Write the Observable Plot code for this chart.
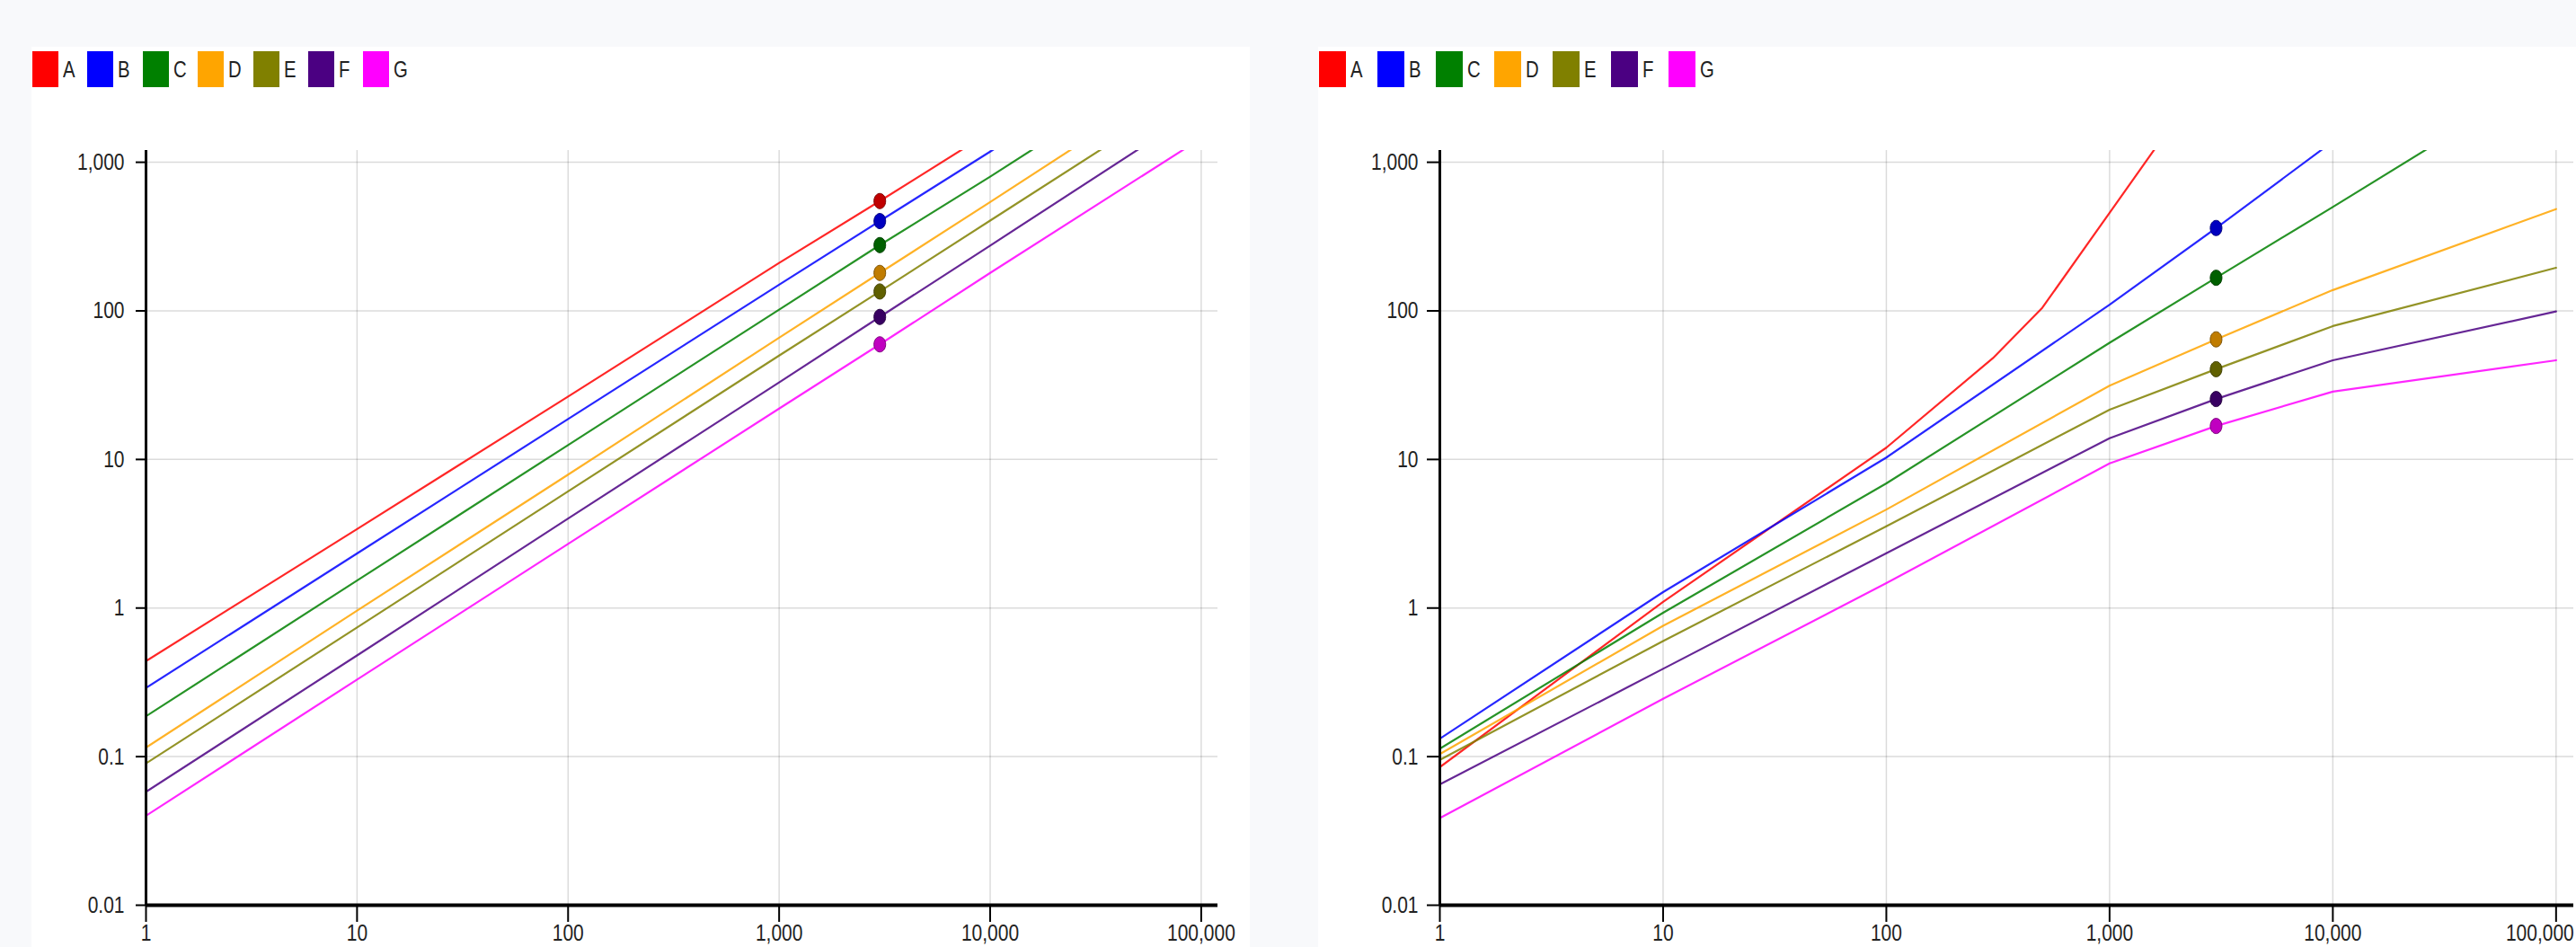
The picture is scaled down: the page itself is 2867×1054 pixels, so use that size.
<!DOCTYPE html>
<html><head><meta charset="utf-8">
<script src="https://cdn.jsdelivr.net/npm/d3@7"></script>
<script src="https://cdn.jsdelivr.net/npm/@observablehq/plot@0.6"></script>
<style>
html,body{margin:0;padding:0;width:2867px;height:1054px;overflow:hidden;background:#f8f9fb;}
.panel{position:absolute;background:#fff;}
.item{position:absolute;top:57px;height:40px;display:flex;align-items:center;}
.sw{height:40px;}
.lab{margin-left:5px;font-size:26px;font-family:"Liberation Sans",sans-serif;color:#222;display:inline-block;transform:scaleX(0.78);transform-origin:left center;}
.chart{position:absolute;top:120px;}
.chart svg{max-width:none !important;}
</style></head><body>
<div class="panel" style="left:35px;top:52px;width:1356px;height:1100px"></div>
<div class="panel" style="left:1467px;top:52px;width:1500px;height:1100px"></div>
<div id="legL"></div><div id="legR"></div>
<div id="left" class="chart" style="left:35px;width:1356px"></div>
<div id="right" class="chart" style="left:1467px;width:1420px"></div>
<script>
// ---- data ----
const series = ["A","B","C","D","E","F","G"];
const colors = ["#ff0000","#0000ff","#008000","#ffa500","#808000","#4b0082","#ff00ff"];
const xTicks = [1, 10, 100, 1000, 10000, 100000];
const yTicks = [0.01, 0.1, 1, 10, 100, 1000];
const dotX = 3000;

// left chart (all series share x)
const xLeft = [1, 10, 100, 1000, 3000, 10000, 100000];
const leftA = [0.44, 3.4, 26.5, 210, 548, 1600, 12400];
const leftB = [0.29, 2.33, 18.7, 150, 402, 1180, 9500];
const leftC = [0.187, 1.53, 12.5, 102, 277, 800, 6500];
const leftD = [0.115, 0.96, 7.9, 66, 180, 540, 4500];
const leftE = [0.09, 0.74, 6.1, 50, 135, 405, 3300];
const leftF = [0.058, 0.48, 4.0, 33, 91, 275, 2300];
const leftG = [0.04, 0.33, 2.7, 22, 59.5, 180, 1450];

// right chart
const xRightA = [1, 10, 100, 300, 500, 1000, 2000];
const xRight = [1, 10, 100, 1000, 3000, 10000, 100000];
const rightA = [0.085, 1.1, 12, 48, 105, 457, 1990];
const rightB = [0.132, 1.28, 10.3, 110, 361, 1380, 14000];
const rightC = [0.113, 0.93, 6.9, 61, 167, 500, 4200];
const rightD = [0.104, 0.76, 4.6, 31.4, 64.3, 138, 484];
const rightE = [0.095, 0.6, 3.55, 21.6, 40.5, 79, 195];
const rightF = [0.065, 0.39, 2.34, 13.9, 25.5, 46.5, 99];
const rightG = [0.0386, 0.245, 1.47, 9.4, 16.8, 28.6, 46.5];

const leftSeries = [[xLeft,leftA],[xLeft,leftB],[xLeft,leftC],[xLeft,leftD],[xLeft,leftE],[xLeft,leftF],[xLeft,leftG]];
const rightSeries = [[xRightA,rightA],[xRight,rightB],[xRight,rightC],[xRight,rightD],[xRight,rightE],[xRight,rightF],[xRight,rightG]];

const FONT = '"Liberation Sans",sans-serif';
const fmt = d3.format(",");

const ellipse = { draw(ctx) {
  const rx = 6.5, ry = 8.5, k = 0.5523;
  ctx.moveTo(rx, 0);
  ctx.bezierCurveTo(rx, ry*k, rx*k, ry, 0, ry);
  ctx.bezierCurveTo(-rx*k, ry, -rx, ry*k, -rx, 0);
  ctx.bezierCurveTo(-rx, -ry*k, -rx*k, -ry, 0, -ry);
  ctx.bezierCurveTo(rx*k, -ry, rx, -ry*k, rx, 0);
  ctx.closePath();
}};

function legend(id, left, step, sw) {
  const el = document.getElementById(id);
  series.forEach((s, i) => {
    const d = document.createElement("div");
    d.className = "item";
    d.style.left = (left + i * step) + "px";
    d.innerHTML = `<div class="sw" style="background:${colors[i]};width:${sw}px"></div><span class="lab">${s}</span>`;
    el.appendChild(d);
  });
}
legend("legL", 36, 61.4, 29);
legend("legR", 1468, 64.9, 30);

function chart(sets, o) {
  const marks = [
    Plot.gridX(xTicks, {stroke: "#000", strokeOpacity: 0.14, strokeWidth: 1.5}),
    Plot.gridY(yTicks, {stroke: "#000", strokeOpacity: 0.14, strokeWidth: 1.5}),
  ];
  sets.forEach(([xs, ys], i) => {
    const data = xs.map((x, j) => ({x, y: ys[j]}));
    marks.push(Plot.line(data, {x: "x", y: "y", stroke: colors[i], strokeWidth: 2.2, strokeOpacity: 0.85, clip: true}));
  });
  sets.forEach(([xs, ys], i) => {
    const data = xs.map((x, j) => ({x, y: ys[j]})).filter(d => d.x === dotX);
    const c = d3.color(colors[i]);
    marks.push(Plot.dot(data, {x: "x", y: "y", symbol: ellipse, fill: c.darker(0.8).formatHex(), stroke: c.darker(2).formatHex(), strokeWidth: 1, clip: true}));
  });
  marks.push(
    Plot.axisX(xTicks, {tickFormat: fmt, tickSize: 19, tickPadding: 3, strokeWidth: 2, fill: "#222"}),
    Plot.axisY(yTicks, {tickFormat: fmt, tickSize: o.ytick, tickPadding: o.ypad, strokeWidth: 2, fill: "#222"}),
    Plot.ruleX([1], {stroke: "#000", strokeWidth: 3}),
    Plot.ruleY([0.01], {stroke: "#000", strokeWidth: 4})
  );
  const svg = Plot.plot({
    width: o.width, height: 947,
    marginTop: 47, marginBottom: 60, marginLeft: o.ml, marginRight: o.mr,
    x: {type: "log", domain: [1, 120000], label: null},
    y: {type: "log", domain: [0.01, 1200], label: null},
    style: {fontSize: "25px", fontFamily: FONT, background: "transparent", overflow: "visible"},
    marks
  });
  // narrow lettering like the reference
  svg.querySelectorAll("g[aria-label='y-axis tick label'] text").forEach(t => {
    t.setAttribute("transform", (t.getAttribute("transform") || "") + " scale(0.84,1.06)");
  });
  const xl = svg.querySelectorAll("g[aria-label='x-axis tick label'] text");
  xl.forEach((t, i) => {
    const shift = (i === xl.length - 1) ? o.lastShift : 0;
    t.setAttribute("transform", (t.getAttribute("transform") || "") + ` translate(${shift},0) scale(0.84,1)`);
  });
  return svg;
}
document.getElementById("left").appendChild(chart(leftSeries, {width: 1356, ml: 127, mr: 36, ytick: 11, ypad: 13, lastShift: 0}));
document.getElementById("right").appendChild(chart(rightSeries, {width: 1420, ml: 135, mr: 23, ytick: 14, ypad: 10, lastShift: -18}));
</script>
</body></html>
